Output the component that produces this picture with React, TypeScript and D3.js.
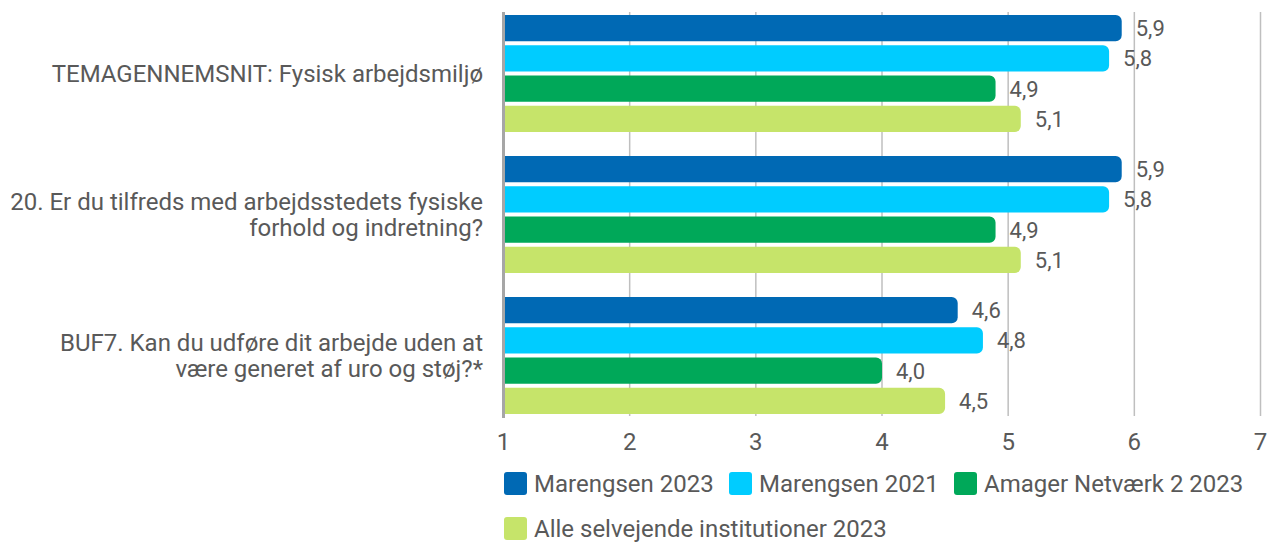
import { useEffect, useRef } from 'react';
import * as d3 from 'd3';

const categories = [
  ['TEMAGENNEMSNIT: Fysisk arbejdsmiljø'],
  ['20. Er du tilfreds med arbejdsstedets fysiske', 'forhold og indretning?'],
  ['BUF7. Kan du udføre dit arbejde uden at', 'være generet af uro og støj?*'],
];
const categoryKeys = ['tema', 'q20', 'buf7'];

const seriesNames = [
  'Marengsen 2023',
  'Marengsen 2021',
  'Amager Netværk 2 2023',
  'Alle selvejende institutioner 2023',
];

const marengsen2023 = [5.9, 5.9, 4.6];
const marengsen2021 = [5.8, 5.8, 4.8];
const amager2023 = [4.9, 4.9, 4.0];
const alleSelvejende2023 = [5.1, 5.1, 4.5];

const seriesValues = [marengsen2023, marengsen2021, amager2023, alleSelvejende2023];
const colors = ['#0069B4', '#00CCFF', '#00A859', '#C6E46A'];

const xTicks = [1, 2, 3, 4, 5, 6, 7];

const App = () => {
  const svgRef = useRef<SVGSVGElement>(null);

  useEffect(() => {
    const width = 1274;
    const height = 542;
    const textColor = '#595959';
    const font = 'Roboto, "Noto Sans", sans-serif';

    const svg = d3.select(svgRef.current);
    svg.selectAll('*').remove();
    svg.attr('width', width).attr('height', height);

    // scales
    const x = d3.scaleLinear().domain([1, 7]).range([503.5, 1260.5]);
    const y = d3.scaleBand().domain(categoryKeys).range([3, 426]);
    const yInner = d3
      .scaleBand()
      .domain(seriesNames)
      .range([10, 131])
      .paddingInner(0.14)
      .paddingOuter(0.07);

    // gridlines
    svg
      .append('g')
      .selectAll('line')
      .data(xTicks.slice(1))
      .enter()
      .append('line')
      .attr('x1', (d) => x(d))
      .attr('x2', (d) => x(d))
      .attr('y1', 12)
      .attr('y2', 416)
      .attr('stroke', '#BFBFBF')
      .attr('stroke-width', 1.5);

    // bars
    const r = 6;
    const rows = categoryKeys.flatMap((key, i) =>
      seriesNames.map((s, j) => ({ key, s, j, v: seriesValues[j][i] }))
    );

    const barPath = (d) => {
      const x0 = x(1) + 1.5;
      const x1 = x(d.v);
      const y0 = y(d.key)! + yInner(d.s)!;
      const h = yInner.bandwidth();
      const rr = Math.min(r, h / 2, x1 - x0);
      return `M${x0},${y0}H${x1 - rr}A${rr},${rr} 0 0 1 ${x1},${y0 + rr}V${y0 + h - rr}A${rr},${rr} 0 0 1 ${x1 - rr},${y0 + h}H${x0}Z`;
    };

    svg
      .append('g')
      .selectAll('path')
      .data(rows)
      .enter()
      .append('path')
      .attr('d', barPath)
      .attr('fill', (d) => colors[d.j]);

    // value labels
    svg
      .append('g')
      .selectAll('text')
      .data(rows)
      .enter()
      .append('text')
      .attr('x', (d) => x(d.v) + 14)
      .attr('y', (d) => y(d.key)! + yInner(d.s)! + yInner.bandwidth() / 2 + 8)
      .attr('font-family', font)
      .attr('font-size', 22)
      .attr('fill', textColor)
      .text((d) => d3.format('.1f')(d.v).replace('.', ','));

    // y axis line
    svg
      .append('line')
      .attr('x1', x(1))
      .attr('x2', x(1))
      .attr('y1', 12)
      .attr('y2', 418)
      .attr('stroke', '#A6A6A6')
      .attr('stroke-width', 3);

    // category labels
    const catG = svg.append('g');
    categoryKeys.forEach((key, i) => {
      const lines = categories[i];
      const cy = y(key)! + y.bandwidth() / 2;
      const lh = 26;
      const first = cy + 8 - ((lines.length - 1) * lh) / 2;
      const t = catG
        .append('text')
        .attr('text-anchor', 'end')
        .attr('font-family', font)
        .attr('font-size', 24)
        .attr('fill', textColor);
      lines.forEach((line, k) => {
        t.append('tspan')
          .attr('x', 483)
          .attr('y', first + k * lh)
          .text(line);
      });
    });

    // x tick labels
    svg
      .append('g')
      .selectAll('text')
      .data(xTicks)
      .enter()
      .append('text')
      .attr('x', (d) => x(d))
      .attr('y', 450)
      .attr('text-anchor', 'middle')
      .attr('font-family', font)
      .attr('font-size', 24)
      .attr('fill', textColor)
      .text((d) => d);

    // legend
    const legendPos = [
      [504, 472],
      [729, 472],
      [954, 472],
      [504, 517],
    ];
    const legend = svg.append('g');
    seriesNames.forEach((name, i) => {
      const [lx, ly] = legendPos[i];
      legend
        .append('rect')
        .attr('x', lx)
        .attr('y', ly)
        .attr('width', 23)
        .attr('height', 23)
        .attr('rx', 3)
        .attr('fill', colors[i]);
      legend
        .append('text')
        .attr('x', lx + 30)
        .attr('y', ly + 19.5)
        .attr('font-family', font)
        .attr('font-size', 24)
        .attr('fill', textColor)
        .text(name);
    });
  }, []);

  return (
    <div style={{ position: 'absolute', left: 0, top: 0 }}>
      <svg ref={svgRef} style={{ display: 'block' }}></svg>
    </div>
  );
};

export default App;
